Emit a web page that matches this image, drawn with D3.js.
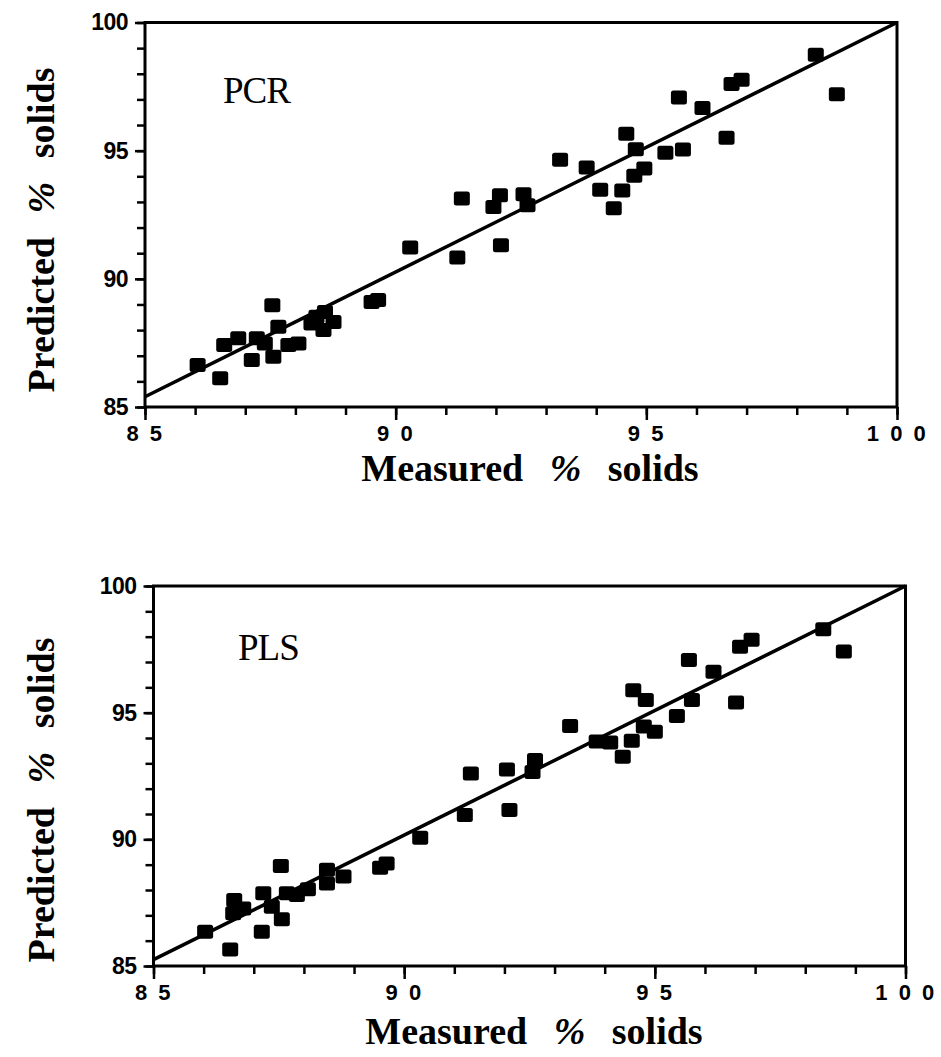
<!DOCTYPE html>
<html>
<head>
<meta charset="utf-8">
<script src="https://cdn.jsdelivr.net/npm/d3@7"></script>
<style>
  body { margin: 0; background: #fff; }
  .tick text { font-family: "Liberation Sans", Arial, sans-serif; font-weight: 900; fill: #000; }
  .axis-title { font-family: "Liberation Serif", "Times New Roman", serif; font-weight: bold; fill: #000; }
  .panel-label { font-family: "Liberation Serif", "Times New Roman", serif; fill: #000; }
</style>
</head>
<body>
<svg id="chart" width="941" height="1057"></svg>
<script>
// axis ticks
var xTicks = [85, 90, 95, 100],
    xTickLabels = ["8 5", "9 0", "9 5", "1 0 0"],
    yTicks = [85, 90, 95, 100],
    yTickLabels = ["85", "90", "95", "100"],
    minorTicks = [85, 86, 87, 88, 89, 90, 91, 92, 93, 94, 95, 96, 97, 98, 99, 100];

// PCR: measured vs predicted % solids
var pcrMeasured = [86.05, 86.50, 86.58, 86.86, 87.23, 87.13, 87.54, 87.66, 87.56, 87.39,
                   88.06, 87.86, 88.42, 88.59, 88.76, 88.56, 88.32, 89.52, 89.65, 90.29,
                   91.23, 92.10, 91.32, 92.08, 91.95, 92.55, 92.63, 93.28, 93.81, 94.08,
                   94.35, 94.52, 94.60, 94.79, 94.76, 94.96, 95.38, 95.73, 95.65, 96.12,
                   96.60, 96.70, 96.90, 98.38, 98.80];
var pcrPredicted = [86.64, 86.12, 87.42, 87.68, 87.68, 86.83, 88.97, 88.13, 86.96, 87.48,
                    87.48, 87.42, 88.52, 88.71, 88.32, 88.00, 88.26, 89.10, 89.17, 91.22,
                    90.83, 91.31, 93.13, 93.26, 92.80, 93.30, 92.87, 94.65, 94.34, 93.48,
                    92.75, 93.45, 95.66, 95.06, 94.02, 94.30, 94.92, 95.05, 97.07, 96.66,
                    95.50, 97.60, 97.77, 98.74, 97.20];
var pcrFitY = [85.4, 100];

// PLS: measured vs predicted % solids
var plsMeasured = [86.03, 86.53, 86.61, 86.79, 86.59, 87.16, 87.19, 87.36, 87.56, 87.54,
                   87.66, 87.86, 88.08, 88.46, 88.46, 88.79, 89.52, 89.65, 90.32, 91.21,
                   92.10, 91.33, 92.05, 92.61, 92.56, 93.31, 93.84, 94.11, 94.36, 94.54,
                   94.57, 94.82, 94.78, 95.00, 95.44, 95.74, 95.68, 96.17, 96.62, 96.70,
                   96.93, 98.36, 98.77];
var plsPredicted = [86.35, 85.65, 87.61, 87.27, 87.08, 86.35, 87.87, 87.34, 86.85, 88.95,
                    87.87, 87.80, 88.03, 88.80, 88.26, 88.53, 88.88, 89.05, 90.06, 90.96,
                    91.16, 92.60, 92.76, 93.13, 92.66, 94.47, 93.86, 93.82, 93.26, 93.89,
                    95.88, 95.50, 94.45, 94.25, 94.87, 95.50, 97.08, 96.62, 95.40, 97.60,
                    97.88, 98.29, 97.41];
var plsFitY = [85.25, 100];

var fitX = [85, 100];

var panels = [
  {label: "PCR", measured: pcrMeasured, predicted: pcrPredicted, fitY: pcrFitY,
   left: 145, top: 22.5, right: 897, bottom: 407, labelX: 223, labelY: 103,
   xTitleX: 530, xTitleY: 481, yTitleY: 230},
  {label: "PLS", measured: plsMeasured, predicted: plsPredicted, fitY: plsFitY,
   left: 153.5, top: 586, right: 905.5, bottom: 966, labelX: 238, labelY: 660,
   xTitleX: 534, xTitleY: 1044, yTitleY: 800}
];

var svg = d3.select("#chart");

function addTitle(sel, before, after) {
  sel.append("tspan").text(before);
  sel.append("tspan").attr("font-style", "italic").text("%");
  sel.append("tspan").text(after);
}

function drawPanel(p) {
  var width = p.right - p.left,
      height = p.bottom - p.top;

  var x = d3.scaleLinear().domain([85, 100]).range([0, width]);
  var y = d3.scaleLinear().domain([85, 100]).range([height, 0]);

  var g = svg.append("g")
    .attr("transform", "translate(" + p.left + "," + p.top + ")");

  // minor ticks
  g.append("g")
    .attr("transform", "translate(0," + height + ")")
    .call(d3.axisBottom(x).tickValues(minorTicks).tickSize(8).tickFormat(""));
  g.append("g")
    .call(d3.axisLeft(y).tickValues(minorTicks).tickSize(8).tickFormat(""));

  // major ticks + labels
  g.append("g")
    .attr("class", "x-axis")
    .attr("transform", "translate(0," + height + ")")
    .call(d3.axisBottom(x).tickValues(xTicks).tickSize(13).tickPadding(5)
      .tickFormat(function(d, i) { return xTickLabels[i]; }));
  g.append("g")
    .attr("class", "y-axis")
    .call(d3.axisLeft(y).tickValues(yTicks).tickSize(10).tickPadding(7)
      .tickFormat(function(d, i) { return yTickLabels[i]; }));

  g.selectAll(".domain").remove();
  g.selectAll(".tick line").attr("stroke", "#000").attr("stroke-width", 2.5);
  g.selectAll(".x-axis .tick text").attr("font-size", 22).attr("letter-spacing", 2.5);
  g.selectAll(".y-axis .tick text").attr("font-size", 23).attr("letter-spacing", -0.5);

  // frame
  g.append("rect")
    .attr("width", width)
    .attr("height", height)
    .attr("fill", "none")
    .attr("stroke", "#000")
    .attr("stroke-width", 3);

  // fit line
  var line = d3.line()
    .x(function(d) { return x(d[0]); })
    .y(function(d) { return y(d[1]); });
  g.append("path")
    .datum(d3.zip(fitX, p.fitY))
    .attr("d", line)
    .attr("fill", "none")
    .attr("stroke", "#000")
    .attr("stroke-width", 3.5);

  // points
  var pts = d3.zip(p.measured, p.predicted);
  g.selectAll("rect.pt")
    .data(pts)
    .enter().append("rect")
      .attr("class", "pt")
      .attr("x", function(d) { return x(d[0]) - 8; })
      .attr("y", function(d) { return y(d[1]) - 7; })
      .attr("width", 16)
      .attr("height", 14)
      .attr("rx", 2.5)
      .attr("fill", "#000");

  g.append("text")
    .attr("class", "panel-label")
    .attr("x", p.labelX - p.left)
    .attr("y", p.labelY - p.top)
    .attr("font-size", 37)
    .attr("letter-spacing", -1)
    .text(p.label);

  // axis titles
  svg.append("text")
    .attr("class", "axis-title")
    .attr("x", p.xTitleX)
    .attr("y", p.xTitleY)
    .attr("text-anchor", "middle")
    .attr("font-size", 38)
    .attr("word-spacing", 17)
    .call(addTitle, "Measured ", " solids");

  svg.append("text")
    .attr("class", "axis-title")
    .attr("transform", "translate(54," + p.yTitleY + ") rotate(-90)")
    .attr("text-anchor", "middle")
    .attr("font-size", 38)
    .attr("word-spacing", 14)
    .call(addTitle, "Predicted ", " solids");
}

panels.forEach(drawPanel);
</script>
</body>
</html>
